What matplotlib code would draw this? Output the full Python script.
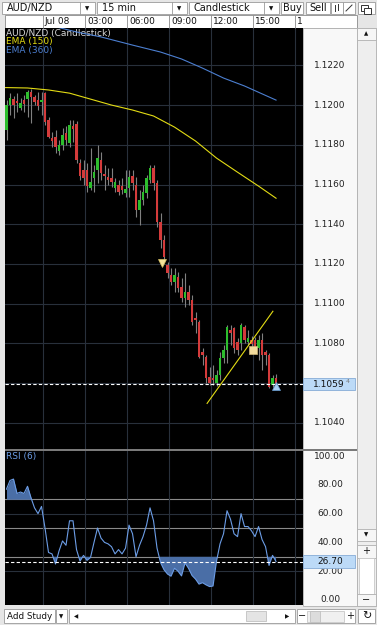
import matplotlib.pyplot as plt
from matplotlib import patches
import numpy as np

plt.rcParams['font.family'] = 'DejaVu Sans'

# AUD/NZD 15 min candles, bar 0 = first visible candle (Jul 07 late session)
opens = [1.11874, 1.12000, 1.12030, 1.12020, 1.11985, 1.12025, 1.12030, 1.12066, 1.12040, 1.12025,
         1.12015, 1.12060, 1.11924, 1.11834, 1.11839, 1.11768, 1.11798, 1.11859, 1.11808, 1.11894,
         1.11904, 1.11708, 1.11672, 1.11672, 1.11582, 1.11632, 1.11672, 1.11723, 1.11652, 1.11637,
         1.11632, 1.11582, 1.11597, 1.11592, 1.11556, 1.11582, 1.11642, 1.11597, 1.11471, 1.11521,
         1.11556, 1.11622, 1.11682, 1.11607, 1.11410, 1.11320, 1.11194, 1.11143, 1.11108, 1.11133,
         1.11083, 1.11027, 1.11058, 1.11017, 1.10926, 1.10906, 1.10755, 1.10730, 1.10629, 1.10624,
         1.10599, 1.10639, 1.10725, 1.10765, 1.10866, 1.10876, 1.10806, 1.10800, 1.10881, 1.10806,
         1.10816, 1.10816, 1.10775, 1.10816, 1.10755, 1.10740, 1.10589, 1.10624]
highs = [1.12025, 1.12060, 1.12045, 1.12060, 1.12035, 1.12050, 1.12076, 1.12081, 1.12050, 1.12066,
         1.12066, 1.12066, 1.11940, 1.11864, 1.11874, 1.11824, 1.11884, 1.11894, 1.11924, 1.11924,
         1.11919, 1.11728, 1.11723, 1.11708, 1.11783, 1.11698, 1.11798, 1.11763, 1.11698, 1.11682,
         1.11682, 1.11632, 1.11622, 1.11632, 1.11672, 1.11672, 1.11672, 1.11637, 1.11572, 1.11597,
         1.11647, 1.11698, 1.11698, 1.11622, 1.11456, 1.11345, 1.11209, 1.11178, 1.11178, 1.11158,
         1.11128, 1.11153, 1.11093, 1.11042, 1.10957, 1.10916, 1.10775, 1.10740, 1.10680, 1.10690,
         1.10664, 1.10755, 1.10790, 1.10891, 1.10891, 1.10881, 1.10826, 1.10901, 1.10891, 1.10866,
         1.10836, 1.10831, 1.10841, 1.10851, 1.10765, 1.10750, 1.10639, 1.10644]
lows = [1.11824, 1.11950, 1.11935, 1.11965, 1.11975, 1.11965, 1.11940, 1.11909, 1.12000, 1.11975,
        1.11950, 1.11899, 1.11834, 1.11788, 1.11758, 1.11748, 1.11773, 1.11798, 1.11788, 1.11814,
        1.11708, 1.11622, 1.11597, 1.11562, 1.11572, 1.11562, 1.11607, 1.11622, 1.11572, 1.11597,
        1.11587, 1.11562, 1.11546, 1.11551, 1.11536, 1.11536, 1.11572, 1.11436, 1.11395, 1.11496,
        1.11531, 1.11607, 1.11572, 1.11385, 1.11279, 1.11219, 1.11128, 1.11093, 1.11058, 1.11058,
        1.11007, 1.10982, 1.10992, 1.10891, 1.10851, 1.10725, 1.10690, 1.10599, 1.10589, 1.10589,
        1.10584, 1.10614, 1.10700, 1.10700, 1.10790, 1.10750, 1.10740, 1.10765, 1.10800, 1.10790,
        1.10765, 1.10755, 1.10715, 1.10664, 1.10690, 1.10574, 1.10579, 1.10579]
closes = [1.12000, 1.12035, 1.12000, 1.12010, 1.12010, 1.12005, 1.12066, 1.12040, 1.12015, 1.11995,
          1.12025, 1.11914, 1.11839, 1.11819, 1.11788, 1.11798, 1.11849, 1.11824, 1.11899, 1.11879,
          1.11723, 1.11642, 1.11632, 1.11592, 1.11612, 1.11662, 1.11733, 1.11657, 1.11642, 1.11622,
          1.11612, 1.11612, 1.11562, 1.11572, 1.11577, 1.11637, 1.11607, 1.11471, 1.11521, 1.11562,
          1.11632, 1.11682, 1.11607, 1.11410, 1.11320, 1.11234, 1.11153, 1.11108, 1.11143, 1.11078,
          1.11027, 1.11058, 1.11017, 1.10906, 1.10916, 1.10730, 1.10740, 1.10624, 1.10599, 1.10614,
          1.10639, 1.10725, 1.10765, 1.10881, 1.10851, 1.10775, 1.10765, 1.10891, 1.10816, 1.10826,
          1.10795, 1.10780, 1.10816, 1.10740, 1.10740, 1.10579, 1.10624, 1.10594]

# moving averages sampled along the visible bars
ema150_bars = [-1, 0, 6, 12, 18, 24, 30, 36, 42, 48, 54, 60, 66, 72, 77]
ema150 = [1.12088, 1.12088, 1.12086, 1.12076, 1.12060, 1.12030, 1.12000, 1.11975, 1.11945,
          1.11889, 1.11819, 1.11733, 1.11662, 1.11592, 1.11531]
ema360_bars = [12, 20, 27, 36, 44, 50, 56, 62, 68, 77]
ema360 = [1.12403, 1.12368, 1.12343, 1.12302, 1.12267, 1.12232, 1.12186, 1.12136, 1.12096, 1.12025]

# RSI(6) per bar
rsi = [77, 83, 84, 74, 75, 74, 79, 71, 64, 60,
       65, 50, 33, 32, 25, 34, 41, 38, 55, 55,
       35, 27, 31, 27.5, 29.5, 40, 50, 43, 40, 39,
       37, 32, 35, 32, 36, 52, 46, 30, 38, 44,
       52, 64, 55, 36, 26, 21, 18, 16.5, 22, 20,
       16.7, 25.7, 22, 17, 14.5, 11, 12, 10.5, 9.3, 9.7,
       27, 39, 46, 62, 56, 46, 44, 60, 51, 51,
       48, 44, 51, 42, 37, 24, 31, 26.7]

trend_bars = [57.3, 76.1]
trend_prices = [1.10498, 1.10962]
sell_mark = (44.4, 1.11205)
box_mark = (70.4, 1.10765)
buy_mark = (77, 1.10584)

last_price = 1.10594
last_rsi = 26.70
price_ticks = [1.1040, 1.1060, 1.1080, 1.1100, 1.1120, 1.1140, 1.1160, 1.1180, 1.1200, 1.1220]
rsi_ticks = [0, 20, 40, 60, 80, 100]
time_ticks = [10.43, 22.43, 34.43, 46.43, 58.43, 70.43, 82.43]
time_labels = ['Jul 08', '03:00', '06:00', '09:00', '12:00', '15:00', '1']

W, H = 377, 625
fig = plt.figure(figsize=(W / 100, H / 100), dpi=100, facecolor='#e6e6e6')


def frame(x, y, w, h):
    return [x / W, 1 - (y + h) / H, w / W, h / H]


# window chrome drawn in pixel coordinates
bg = fig.add_axes([0, 0, 1, 1], zorder=0)
bg.set_xlim(0, W)
bg.set_ylim(H, 0)
bg.axis('off')


def box(x, y, w, h, fc='white', ec='#9a9a9a', lw=0.6):
    bg.add_patch(patches.Rectangle((x, y), w, h, facecolor=fc, edgecolor=ec, linewidth=lw))


def label(x, y, s, size=7, ha='left', color='#111111'):
    bg.text(x, y, s, fontsize=size, ha=ha, va='center', color=color)


# toolbar
for x0, w, txt in [(2, 93, 'AUD/NZD'), (97, 90, '15 min'), (189, 90, 'Candlestick')]:
    box(x0, 2, w, 12)
    label(x0 + 5, 8.3, txt)
    bg.plot([x0 + w - 15, x0 + w - 15], [2, 14], color='#9a9a9a', lw=0.6)
    label(x0 + w - 7.5, 8.5, '▼', size=4, ha='center')
box(281, 2, 22, 12)
label(292, 8.3, 'Buy', ha='center')
box(306, 2, 24, 12)
label(318, 8.3, 'Sell', ha='center')
box(331, 2, 12, 12)
box(343, 2, 12, 12)
bg.plot([335, 335], [5, 11], color='#333333', lw=0.7)
bg.plot([338, 338], [4, 10], color='#333333', lw=0.7)
bg.plot([346, 352], [11, 5], color='#333333', lw=0.7)
box(358, 2, 17, 12)
box(361, 4.5, 7, 6, fc='none', ec='#333333', lw=0.7)
box(364, 7.5, 7, 6, fc='white', ec='#333333', lw=0.7)

# time axis strip, price label panel, right scroll column
box(5, 15, 352, 13, fc='white', ec='#8a8a8a')
box(303, 28, 54, 578, fc='#f8f8f8', ec='#b0b0b0')
box(357, 28, 19, 578, fc='#eeeeee', ec='#b0b0b0')
box(357, 28, 19, 12, fc='#f6f6f6', ec='#b0b0b0')
label(366.5, 34, '▲', size=4, ha='center')
box(357, 529, 19, 12, fc='#f6f6f6', ec='#b0b0b0')
label(366.5, 535, '▼', size=4, ha='center')
box(357, 545, 19, 13, fc='#f6f6f6', ec='#b0b0b0')
label(366.5, 551.5, '+', size=7, ha='center')
box(359, 558, 15, 36, fc='white', ec='#c8c8c8')
box(357, 594, 19, 12, fc='#f6f6f6', ec='#b0b0b0')
label(366.5, 600, '−', size=7, ha='center')
box(5, 448.5, 352, 2, fc='#7a7a7a', ec='none')

# bottom bar
box(4, 609, 51, 14)
label(7, 616.3, 'Add Study', size=6.3)
box(56, 609, 11, 14)
label(61.5, 616.5, '▼', size=4, ha='center')
box(69, 609, 226, 14)
label(76, 616.3, '◀', size=4, ha='center')
label(287, 616.3, '▶', size=4, ha='center')
box(246, 611, 20, 10, fc='#e4e4e4', ec='#c0c0c0')
box(297, 609, 58, 14)
label(302, 616.3, '−', ha='center')
label(350, 616.3, '+', ha='center')
box(307, 610.5, 37, 11, fc='#f0f0f0', ec='#c8c8c8')
box(310, 610.5, 10, 11, fc='#dcdcdc', ec='#c0c0c0')
box(358, 609, 17, 14)
label(366.5, 616.3, '↻', size=8, ha='center')

# price panel
ax = fig.add_axes(frame(5, 28, 298, 420.5), zorder=1, facecolor='black')
ax.set_xlim(-0.43, 84.7)
ax.set_ylim(1.10271, 1.12388)
ax.set_xticks(time_ticks)
ax.set_yticks(price_ticks)
ax.grid(color='#28303b', lw=0.8)
ax.tick_params(length=0, labelbottom=False, labelleft=False)
for s in ax.spines.values():
    s.set_visible(False)

o = np.array(opens)
h = np.array(highs)
l = np.array(lows)
c = np.array(closes)
x = np.arange(len(o))
up = c >= o
ax.vlines(x, l, h, color='#808080', lw=0.8, zorder=2)
ax.bar(x[up], (c - o)[up], bottom=o[up], width=0.72, color='#2dbd2d', zorder=3)
ax.bar(x[~up], (c - o)[~up], bottom=o[~up], width=0.72, color='#d43b3b', zorder=3)

ax.plot(ema150_bars, ema150, color='#e3dc14', lw=0.8, zorder=4)
ax.plot(ema360_bars, ema360, color='#4c7fd1', lw=0.8, zorder=4)
ax.plot(trend_bars, trend_prices, color='#e3dc14', lw=0.8, zorder=4)
ax.plot(*sell_mark, marker='v', ms=6, color='#f5e49a', mec='#d8c060', mew=0.5, zorder=5)
ax.plot(*box_mark, marker='s', ms=6, color='#f3dc9e', mec='#d0b878', mew=0.5, zorder=5)
ax.plot(*buy_mark, marker='^', ms=6, color='#a8cff0', mec='#6aa0d8', mew=0.5, zorder=5)
ax.axhline(last_price, color='white', lw=0.8, ls=(0, (3, 2)), zorder=4)

ax.text(0.004, 0.988, 'AUD/NZD (Candlestick)', transform=ax.transAxes, fontsize=6.5,
        color='#d8d8d8', va='center')
ax.text(0.004, 0.967, 'EMA (150)', transform=ax.transAxes, fontsize=6.5, color='#e3dc14', va='center')
ax.text(0.004, 0.947, 'EMA (360)', transform=ax.transAxes, fontsize=6.5, color='#4c7fd1', va='center')

ytr = ax.get_yaxis_transform()
for p in price_ticks:
    if abs(p - last_price) < 0.0004:
        continue  # covered by the last price tag
    ax.text(1.0906, p, f'{p:.4f}', transform=ytr, ha='center', va='center', fontsize=6.5,
            color='#222222', clip_on=False)
r = patches.Rectangle((1.0, last_price - 0.0003), 0.1745, 0.0006, transform=ytr,
                      facecolor='#bcdaf7', edgecolor='#86acd6', lw=0.6, zorder=6)
r.set_clip_on(False)
ax.add_patch(r)
lp = f'{last_price:.5f}'
ax.text(1.085, last_price, lp[:-1], transform=ytr, ha='center', va='center', fontsize=6.5,
        color='#111111', clip_on=False, zorder=7)
ax.text(1.143, last_price + 0.00012, lp[-1], transform=ytr, ha='left', va='center', fontsize=4.5,
        color='#777777', clip_on=False, zorder=7)

xtr = ax.get_xaxis_transform()
ax.vlines(time_ticks, 1.0, 1.0 + 13 / 420.5, transform=xtr, color='#8a8a8a', lw=0.6, clip_on=False)
for t, s in zip(time_ticks, time_labels):
    ax.text(t + 0.55, 1.0155, s, transform=xtr, fontsize=6.5, color='#111111', va='center',
            clip_on=False)

# RSI panel
ax2 = fig.add_axes(frame(5, 451, 298, 154), zorder=1, facecolor='black')
ax2.set_xlim(-0.43, 84.7)
ax2.set_ylim(-3.5, 103.5)
ax2.set_xticks(time_ticks)
ax2.set_yticks([20, 60])
ax2.grid(color='#28303b', lw=0.8)
ax2.tick_params(length=0, labelbottom=False, labelleft=False)
for s in ax2.spines.values():
    s.set_visible(False)
for lvl in (30, 50, 70):
    ax2.axhline(lvl, color='#8a8a8a', lw=0.8, zorder=1)

rv = np.array(rsi)
rx = np.arange(len(rv))
ax2.fill_between(rx, rv, 70, where=rv >= 70, interpolate=True, color='#4a6ea6', lw=0, zorder=2)
ax2.fill_between(rx, rv, 30, where=rv <= 30, interpolate=True, color='#4a6ea6', lw=0, zorder=2)
ax2.plot(rx, rv, color='#6c9de6', lw=0.8, zorder=3)
ax2.axhline(last_rsi, color='white', lw=0.8, ls=(0, (3, 2)), zorder=4)
ax2.text(0.004, 0.965, 'RSI (6)', transform=ax2.transAxes, fontsize=6.5, color='#6c9de6', va='center')

ytr2 = ax2.get_yaxis_transform()
for v in rsi_ticks:
    ax2.text(1.0906, v, f'{v:.2f}', transform=ytr2, ha='center', va='center', fontsize=6.5,
             color='#222222', clip_on=False)
r2 = patches.Rectangle((1.0, last_rsi - 4.2), 0.1745, 8.4, transform=ytr2,
                       facecolor='#bcdaf7', edgecolor='#86acd6', lw=0.6, zorder=6)
r2.set_clip_on(False)
ax2.add_patch(r2)
ax2.text(1.0906, last_rsi, f'{last_rsi:.2f}', transform=ytr2, ha='center', va='center',
         fontsize=6.5, color='#111111', clip_on=False, zorder=7)

fig.savefig('out.png', dpi=100, facecolor=fig.get_facecolor())
